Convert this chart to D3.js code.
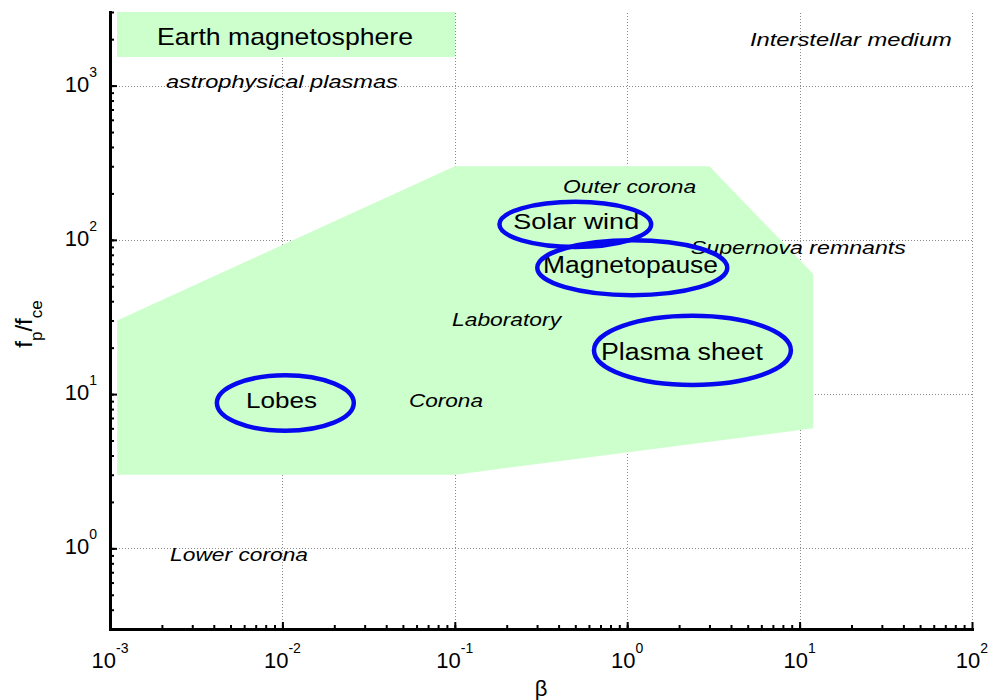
<!DOCTYPE html>
<html>
<head>
<meta charset="utf-8">
<script src="https://cdn.jsdelivr.net/npm/d3@7"></script>
<style>
  body { margin: 0; background: #fff; }
  text { font-family: "Liberation Sans", Arial, Helvetica, sans-serif; fill: #000; }
</style>
</head>
<body>
<svg id="chart" width="991" height="700"></svg>
<script>
// ---- axes ----
const betaDomain = [1e-3, 1e2];
const freqDomain = [0.3, 3000];
const betaMajor = [1e-3, 1e-2, 1e-1, 1, 10, 100];
const betaExponents = ["-3", "-2", "-1", "0", "1", "2"];
const freqMajor = [1, 10, 100, 1000];
const freqExponents = ["0", "1", "2", "3"];

// ---- shaded parameter region of the Earth magnetosphere (beta, fp/fce) ----
const regionBeta = [1.1e-3, 1.1e-3, 0.1, 3, 12, 12, 0.1];
const regionFreq = [3, 30, 300, 300, 60, 6, 3];

// ---- magnetospheric regions drawn as ellipses in log-log space ----
const zoneNames = ["Solar wind", "Magnetopause", "Plasma sheet", "Lobes"];
const zoneBeta = [0.5, 1.07, 2.39, 0.0104];
const zoneFreq = [126, 66, 19.2, 8.75];
const zoneHalfDecadesBeta = [0.44, 0.551, 0.571, 0.397];
const zoneHalfDecadesFreq = [0.146, 0.178, 0.224, 0.18];
const zoneLabelBeta = [0.218, 0.325, 0.705, 0.00615];
const zoneLabelFreq = [117.5, 61, 16.6, 8.13];

// ---- other plasmas, italic annotations ----
const plasmaNames = ["astrophysical plasmas", "Interstellar medium", "Outer corona",
  "Supernova remnants", "Laboratory", "Corona", "Lower corona"];
const plasmaBeta = [0.00211, 5.15, 0.425, 2.34, 0.0964, 0.0542, 0.00223];
const plasmaFreq = [964, 1807, 201, 81, 27.6, 8.24, 0.83];

// text box lengths (px) for the annotation fonts
const zoneLabelLength = [126, 175, 162, 71];
const zoneLabelSize = [22, 23, 23, 22];
const plasmaLabelLength = [232, 202, 133, 215, 109, 74, 138];
const plasmaLabelSize = [18, 19, 19, 19, 19, 19, 18];

const svg = d3.select("#chart");
svg.append("rect").attr("width", 991).attr("height", 700).attr("fill", "#fff");

const x = d3.scaleLog().domain(betaDomain).range([110, 972]);
const y = d3.scaleLog().domain(freqDomain).range([629, 12]);

const GREEN = "#ccffcc";
const BLUE = "#0808ee";

// minor tick values for each decade
function minorTicks(domain) {
  const out = [];
  const lo = Math.floor(Math.log10(domain[0])), hi = Math.ceil(Math.log10(domain[1]));
  for (let d = lo; d < hi; d++) {
    for (let k = 1; k <= 9; k++) {
      const v = k * Math.pow(10, d);
      if (v >= domain[0] * 0.999 && v <= domain[1] * 1.001) out.push(v);
    }
  }
  return out;
}

// grid
const grid = svg.append("g").attr("stroke", "#8a8a8a").attr("stroke-width", 1)
  .attr("stroke-dasharray", "1,2").attr("fill", "none");
grid.selectAll("line.gx").data(betaMajor.slice(1)).join("line")
  .attr("x1", d => Math.round(x(d)) + 0.5).attr("x2", d => Math.round(x(d)) + 0.5)
  .attr("y1", y(freqDomain[0])).attr("y2", y(freqDomain[1]));
grid.selectAll("line.gy").data(freqMajor).join("line")
  .attr("y1", d => Math.round(y(d)) + 0.5).attr("y2", d => Math.round(y(d)) + 0.5)
  .attr("x1", x(betaDomain[0])).attr("x2", x(betaDomain[1]));

// shaded region
svg.append("path")
  .datum(d3.zip(regionBeta, regionFreq))
  .attr("fill", GREEN)
  .attr("d", d3.line().x(d => x(d[0])).y(d => y(d[1])).curve(d3.curveLinearClosed));

// legend
const legend = svg.append("g");
legend.append("rect").attr("x", 117).attr("y", 12).attr("width", 338).attr("height", 45).attr("fill", GREEN);
legend.append("text").attr("x", 285).attr("y", 45).attr("text-anchor", "middle")
  .attr("font-size", 24).attr("textLength", 256).attr("lengthAdjust", "spacingAndGlyphs")
  .text("Earth magnetosphere");

// italic annotations
svg.append("g").selectAll("text").data(plasmaNames).join("text")
  .attr("x", (d, i) => x(plasmaBeta[i]))
  .attr("y", (d, i) => y(plasmaFreq[i]))
  .attr("font-style", "italic")
  .attr("font-size", (d, i) => plasmaLabelSize[i])
  .attr("textLength", (d, i) => plasmaLabelLength[i])
  .attr("lengthAdjust", "spacingAndGlyphs")
  .text(d => d);

// region labels
svg.append("g").selectAll("text").data(zoneNames).join("text")
  .attr("x", (d, i) => x(zoneLabelBeta[i]))
  .attr("y", (d, i) => y(zoneLabelFreq[i]))
  .attr("font-size", (d, i) => zoneLabelSize[i])
  .attr("textLength", (d, i) => zoneLabelLength[i])
  .attr("lengthAdjust", "spacingAndGlyphs")
  .text(d => d);

// ellipses
svg.append("g").selectAll("ellipse").data(zoneNames).join("ellipse")
  .attr("cx", (d, i) => x(zoneBeta[i]))
  .attr("cy", (d, i) => y(zoneFreq[i]))
  .attr("rx", (d, i) => x(zoneBeta[i] * Math.pow(10, zoneHalfDecadesBeta[i])) - x(zoneBeta[i]))
  .attr("ry", (d, i) => y(zoneFreq[i]) - y(zoneFreq[i] * Math.pow(10, zoneHalfDecadesFreq[i])))
  .attr("fill", "none").attr("stroke", BLUE).attr("stroke-width", 4.5);

// axes
function styleAxis(g, width) {
  g.select(".domain").attr("stroke", "#000").attr("stroke-width", 3).attr("stroke-linecap", "square");
  g.selectAll(".tick line").attr("stroke", "#000").attr("stroke-width", width);
  g.selectAll(".tick text").remove();
}
const xAxisG = svg.append("g").attr("transform", "translate(0,629)");
xAxisG.call(d3.axisBottom(x).tickValues(minorTicks(betaDomain)).tickSizeInner(-4).tickSizeOuter(0).tickFormat(""));
styleAxis(xAxisG, 2);
const xMajorG = svg.append("g").attr("transform", "translate(0,629)");
xMajorG.call(d3.axisBottom(x).tickValues(betaMajor).tickSizeInner(-7).tickSizeOuter(0).tickFormat(""));
styleAxis(xMajorG, 2);
xMajorG.select(".domain").remove();

const yAxisG = svg.append("g").attr("transform", "translate(110,0)");
yAxisG.call(d3.axisLeft(y).tickValues(minorTicks(freqDomain)).tickSizeInner(-4).tickSizeOuter(0).tickFormat(""));
styleAxis(yAxisG, 2);
const yMajorG = svg.append("g").attr("transform", "translate(110,0)");
yMajorG.call(d3.axisLeft(y).tickValues(freqMajor).tickSizeInner(-7).tickSizeOuter(0).tickFormat(""));
styleAxis(yMajorG, 2);
yMajorG.select(".domain").remove();

// tick labels: 10 with a superscript exponent
const xl = svg.append("g").selectAll("text").data(betaMajor).join("text")
  .attr("x", d => x(d)).attr("y", 668).attr("text-anchor", "middle").attr("font-size", 22);
xl.append("tspan").text("10");
xl.append("tspan").attr("dy", -15).attr("font-size", 14).text((d, i) => betaExponents[i]);

const yl = svg.append("g").selectAll("text").data(freqMajor).join("text")
  .attr("x", 97).attr("y", d => y(d) + 6).attr("text-anchor", "end").attr("font-size", 22);
yl.append("tspan").text("10");
yl.append("tspan").attr("dy", -15).attr("font-size", 14).text((d, i) => freqExponents[i]);

// axis titles
svg.append("text").attr("x", 541).attr("y", 696).attr("text-anchor", "middle")
  .attr("font-size", 22).text("β");
const yt = svg.append("text").attr("transform", "translate(32,324) rotate(-90)")
  .attr("text-anchor", "middle").attr("font-size", 24);
yt.append("tspan").text("f");
yt.append("tspan").attr("dy", 10).attr("font-size", 17).text("p");
yt.append("tspan").attr("dy", -10).text("/f");
yt.append("tspan").attr("dy", 10).attr("font-size", 17).text("ce");
</script>
</body>
</html>
